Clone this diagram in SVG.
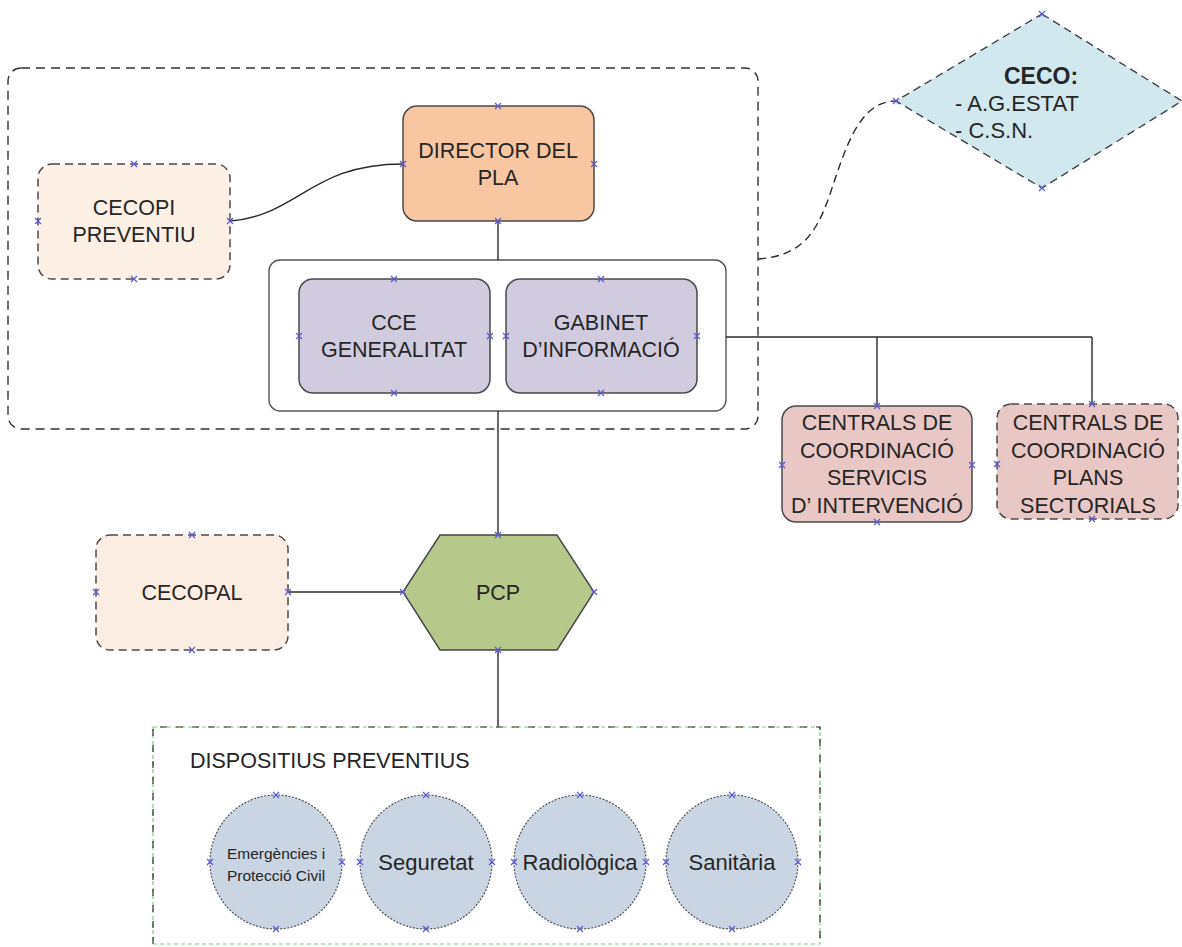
<svg xmlns="http://www.w3.org/2000/svg" width="1182" height="947" viewBox="0 0 1182 947">
  <defs>
    <style>
      text { font-family: "Liberation Sans", Arial, sans-serif; fill: #262626; }
      .lbl { font-size: 21.5px; text-anchor: middle; }
      .small { font-size: 15.5px; text-anchor: middle; }
      .circ { font-size: 22px; text-anchor: middle; }
      .box { stroke: #4a4a4a; stroke-width: 1.5; }
      .dash { stroke-dasharray: 8 5; }
      .conn { fill: none; stroke: #2a2a2a; stroke-width: 1.4; }
      .ell { fill: #c9d5e3; stroke: #555; stroke-width: 1.2; stroke-dasharray: 2 1.5; }
    </style>
    <symbol id="pt" viewBox="-4 -4 8 8" width="8" height="8" overflow="visible">
      <path d="M-3,-3 L3,3 M-3,3 L3,-3" stroke="#5a5ad0" stroke-width="1.2"/>
    </symbol>
  </defs>

  <rect width="1182" height="947" fill="#fff"/>

  <!-- outer dashed grouping frame -->
  <g id="frame">
    <rect x="8" y="68" width="750" height="361" rx="13" fill="none" stroke="#333" stroke-width="1.4" stroke-dasharray="9 6"/>
  </g>

  <!-- inner solid container for CCE and Gabinet -->
  <g id="container">
    <rect x="269" y="260" width="457" height="151" rx="11" fill="#fff" stroke="#555" stroke-width="1.4"/>
  </g>

  <!-- connectors -->
  <g id="connectors">
    <path class="conn" d="M230,221 C300,215 310,164 403,164"/>
    <path class="conn" d="M498,221 V260"/>
    <path class="conn" d="M498,411 V535"/>
    <path class="conn" d="M726,337 H1092"/>
    <path class="conn" d="M877,337 V406"/>
    <path class="conn" d="M1092,337 V404"/>
    <path class="conn" d="M288,592 H403"/>
    <path class="conn" d="M498,650 V727"/>
    <path class="conn" stroke-dasharray="8 5" d="M758,259 C800,256 815,235 828,200 C845,150 858,101 896,101"/>
  </g>

  <g id="director">
    <rect class="box" x="403" y="106" width="191" height="115" rx="14" fill="#f8c7a1"/>
    <text class="lbl" x="498" y="158">DIRECTOR DEL</text>
    <text class="lbl" x="498" y="185">PLA</text>
  </g>

  <g id="cecopi">
    <rect class="box dash" x="38" y="164" width="192" height="115" rx="14" fill="#fcefe4"/>
    <text class="lbl" x="134" y="215">CECOPI</text>
    <text class="lbl" x="134" y="242">PREVENTIU</text>
  </g>

  <g id="cce">
    <rect class="box" x="299" y="279" width="191" height="114" rx="14" fill="#d1cbdf"/>
    <text class="lbl" x="394" y="330">CCE</text>
    <text class="lbl" x="394" y="357">GENERALITAT</text>
  </g>

  <g id="gabinet">
    <rect class="box" x="506" y="279" width="191" height="114" rx="14" fill="#d1cbdf"/>
    <text class="lbl" x="601" y="330">GABINET</text>
    <text class="lbl" x="601" y="357">D’INFORMACIÓ</text>
  </g>

  <g id="ceco">
    <polygon points="1042,14 1182,101 1042,188 896,101" fill="#d1e8ef" stroke="#444" stroke-width="1.4" stroke-dasharray="8 5"/>
    <text x="1041" y="84" style="font-size:23px;font-weight:bold;text-anchor:middle">CECO:</text>
    <text x="955" y="111" style="font-size:22px">- A.G.ESTAT</text>
    <text x="955" y="138" style="font-size:22px">- C.S.N.</text>
  </g>

  <g id="centrals-serveis">
    <rect class="box" x="782" y="406" width="190" height="116" rx="14" fill="#e8c7c5"/>
    <text class="lbl" x="877" y="430">CENTRALS DE</text>
    <text class="lbl" x="877" y="458">COORDINACIÓ</text>
    <text class="lbl" x="877" y="485">SERVICIS</text>
    <text class="lbl" x="877" y="513">D’ INTERVENCIÓ</text>
  </g>

  <g id="centrals-plans">
    <rect class="box dash" x="997" y="404" width="181" height="115" rx="14" fill="#e8c7c5"/>
    <text class="lbl" x="1088" y="430">CENTRALS DE</text>
    <text class="lbl" x="1088" y="458">COORDINACIÓ</text>
    <text class="lbl" x="1088" y="485">PLANS</text>
    <text class="lbl" x="1088" y="513">SECTORIALS</text>
  </g>

  <g id="cecopal">
    <rect class="box dash" x="96" y="535" width="192" height="115" rx="14" fill="#fcede3"/>
    <text class="lbl" x="192" y="600">CECOPAL</text>
  </g>

  <g id="pcp">
    <polygon points="403,592 440,535 557,535 594,592 557,650 440,650" fill="#b6c98b" stroke="#444" stroke-width="1.4"/>
    <text class="lbl" x="498" y="600">PCP</text>
  </g>

  <g id="dispositius">
    <rect x="153" y="727" width="667" height="217" fill="none" stroke="#7ad07a" stroke-width="1.2" stroke-dasharray="4 3"/>
    <path d="M153,944 V727 H820 V944" fill="none" stroke="#333" stroke-width="1.2" stroke-dasharray="7 9"/>
    <text x="190" y="768" style="font-size:21.5px">DISPOSITIUS PREVENTIUS</text>
  </g>

  <g id="emergencies">
    <ellipse class="ell" cx="276" cy="862" rx="66" ry="67"/>
    <text class="small" x="276" y="859">Emergències i</text>
    <text class="small" x="276" y="881">Protecció Civil</text>
  </g>
  <g id="seguretat">
    <ellipse class="ell" cx="426" cy="862" rx="66" ry="67"/>
    <text class="circ" x="426" y="870">Seguretat</text>
  </g>
  <g id="radiologica">
    <ellipse class="ell" cx="580" cy="862" rx="66" ry="67"/>
    <text class="circ" x="580" y="870">Radiològica</text>
  </g>
  <g id="sanitaria">
    <ellipse class="ell" cx="732" cy="862" rx="66" ry="67"/>
    <text class="circ" x="732" y="870">Sanitària</text>
  </g>

  <!-- connection points -->
  <g id="points">
    <use href="#pt" x="494" y="102"/><use href="#pt" x="399" y="160"/><use href="#pt" x="590" y="160"/><use href="#pt" x="494" y="217"/>
    <use href="#pt" x="130" y="160"/><use href="#pt" x="34" y="217"/><use href="#pt" x="226" y="217"/><use href="#pt" x="130" y="275"/>
    <use href="#pt" x="390" y="275"/><use href="#pt" x="295" y="332"/><use href="#pt" x="486" y="332"/><use href="#pt" x="390" y="389"/>
    <use href="#pt" x="597" y="275"/><use href="#pt" x="502" y="332"/><use href="#pt" x="693" y="332"/><use href="#pt" x="597" y="389"/>
    <use href="#pt" x="873" y="402"/><use href="#pt" x="778" y="461"/><use href="#pt" x="968" y="461"/><use href="#pt" x="873" y="518"/>
    <use href="#pt" x="1088" y="400"/><use href="#pt" x="993" y="460"/><use href="#pt" x="1088" y="515"/>
    <use href="#pt" x="1038" y="10"/><use href="#pt" x="892" y="97"/><use href="#pt" x="1038" y="184"/>
    <use href="#pt" x="188" y="531"/><use href="#pt" x="92" y="588"/><use href="#pt" x="284" y="588"/><use href="#pt" x="188" y="646"/>
    <use href="#pt" x="494" y="531"/><use href="#pt" x="399" y="588"/><use href="#pt" x="590" y="588"/><use href="#pt" x="494" y="646"/>
    <use href="#pt" x="272" y="791"/><use href="#pt" x="206" y="858"/><use href="#pt" x="338" y="858"/><use href="#pt" x="272" y="925"/>
    <use href="#pt" x="422" y="791"/><use href="#pt" x="356" y="858"/><use href="#pt" x="488" y="858"/><use href="#pt" x="422" y="925"/>
    <use href="#pt" x="576" y="791"/><use href="#pt" x="510" y="858"/><use href="#pt" x="642" y="858"/><use href="#pt" x="576" y="925"/>
    <use href="#pt" x="728" y="791"/><use href="#pt" x="662" y="858"/><use href="#pt" x="794" y="858"/><use href="#pt" x="728" y="925"/>
  </g>
</svg>
